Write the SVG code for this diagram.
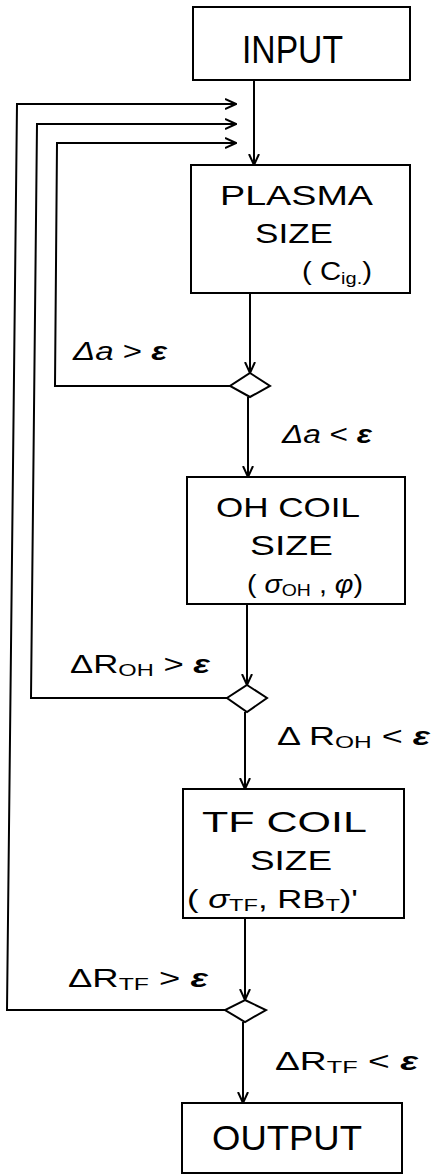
<svg xmlns="http://www.w3.org/2000/svg" width="431" height="1174" viewBox="0 0 431 1174">
<style>
.box{fill:#fff;stroke:#000;stroke-width:2}
.dia{fill:#fff;stroke:#000;stroke-width:2}
.ln{fill:none;stroke:#000;stroke-width:2}
text{font-family:"Liberation Sans",Arial,sans-serif;fill:#000}
.big{font-size:28px}
.sm{font-size:25px}
.lab{font-size:25px}
.it{font-style:italic}
.sub{font-size:17px}
.eps{font-style:italic;font-weight:bold}
</style>
<defs>
<marker id="arr" viewBox="0 0 12 12" refX="11" refY="6" markerWidth="12" markerHeight="12" orient="auto" markerUnits="userSpaceOnUse">
<path d="M0,1 L11,6 L0,11" fill="none" stroke="#000" stroke-width="2"/>
</marker>
</defs>
<rect width="431" height="1174" fill="#fff"/>
<g id="connectors">
<line class="ln" x1="254" y1="80" x2="254" y2="165" marker-end="url(#arr)"/>
<line class="ln" x1="250" y1="293" x2="250" y2="373" marker-end="url(#arr)"/>
<line class="ln" x1="248" y1="397" x2="248" y2="477" marker-end="url(#arr)"/>
<line class="ln" x1="247" y1="604" x2="247" y2="685" marker-end="url(#arr)"/>
<line class="ln" x1="245" y1="712" x2="245" y2="789" marker-end="url(#arr)"/>
<line class="ln" x1="245" y1="918" x2="245" y2="1000" marker-end="url(#arr)"/>
<line class="ln" x1="243" y1="1022" x2="243" y2="1103" marker-end="url(#arr)"/>
<polyline class="ln" points="230,386 55,386 57,143 236,143" marker-end="url(#arr)"/>
<polyline class="ln" points="227,698 31,698 37,124 236,124" marker-end="url(#arr)"/>
<polyline class="ln" points="225,1010 7,1010 17,104 236,104" marker-end="url(#arr)"/>
<text class="lab" x="73" y="360" textLength="94" lengthAdjust="spacingAndGlyphs"><tspan class="it">Δa</tspan> &gt; <tspan class="eps">ε</tspan></text>
<text class="lab" x="282" y="443" textLength="90" lengthAdjust="spacingAndGlyphs"><tspan class="it">Δa</tspan> &lt; <tspan class="eps">ε</tspan></text>
<text class="lab" x="70" y="673" textLength="140" lengthAdjust="spacingAndGlyphs">ΔR<tspan class="sub" dy="3">OH</tspan><tspan dy="-3"> &gt; </tspan><tspan class="eps">ε</tspan></text>
<text class="lab" x="277" y="745" textLength="153" lengthAdjust="spacingAndGlyphs">Δ R<tspan class="sub" dy="3">OH</tspan><tspan dy="-3"> &lt; </tspan><tspan class="eps">ε</tspan></text>
<text class="lab" x="68" y="987" textLength="140" lengthAdjust="spacingAndGlyphs">ΔR<tspan class="sub" dy="3">TF</tspan><tspan dy="-3"> &gt; </tspan><tspan class="eps">ε</tspan></text>
<text class="lab" x="275" y="1070" textLength="143" lengthAdjust="spacingAndGlyphs">ΔR<tspan class="sub" dy="3">TF</tspan><tspan dy="-3"> &lt; </tspan><tspan class="eps">ε</tspan></text>
</g>
<g id="input">
<rect class="box" x="193" y="7" width="217" height="73"/>
<text x="242" y="63" font-size="38" textLength="101" lengthAdjust="spacingAndGlyphs">INPUT</text>
</g>
<g id="plasma">
<rect class="box" x="191" y="165" width="219" height="128"/>
<text class="big" x="220" y="205" textLength="153" lengthAdjust="spacingAndGlyphs">PLASMA</text>
<text class="big" x="255" y="243" textLength="78" lengthAdjust="spacingAndGlyphs">SIZE</text>
<text class="sm" x="302" y="280" textLength="70" lengthAdjust="spacingAndGlyphs">( C<tspan class="sub" dy="4">ig.</tspan><tspan dy="-4">)</tspan></text>
</g>
<g id="dec1"><polygon class="dia" points="250,373 270,386 250,397 230,386"/></g>
<g id="oh">
<rect class="box" x="187" y="477" width="218" height="127"/>
<text class="big" x="216" y="517" textLength="144" lengthAdjust="spacingAndGlyphs">OH  COIL</text>
<text class="big" x="250" y="555" textLength="83" lengthAdjust="spacingAndGlyphs">SIZE</text>
<text class="sm" x="247" y="593" textLength="116" lengthAdjust="spacingAndGlyphs">( <tspan class="it">σ</tspan><tspan class="sub" dy="3">OH</tspan><tspan dy="-3"> ,  </tspan><tspan class="it">φ</tspan>)</text>
</g>
<g id="dec2"><polygon class="dia" points="247,685 267,698 247,712 227,698"/></g>
<g id="tf">
<rect class="box" x="183" y="789" width="221" height="129"/>
<text x="202" y="832" font-size="30" textLength="165" lengthAdjust="spacingAndGlyphs">TF  COIL</text>
<text class="big" x="250" y="870" textLength="82" lengthAdjust="spacingAndGlyphs">SIZE</text>
<text class="sm" x="187" y="908" textLength="171" lengthAdjust="spacingAndGlyphs">( <tspan class="it">σ</tspan><tspan class="sub" dy="3">TF</tspan><tspan dy="-3">, RB</tspan><tspan class="sub" dy="3">T</tspan><tspan dy="-3">)'</tspan></text>
</g>
<g id="dec3"><polygon class="dia" points="245,1000 266,1010 245,1022 225,1010"/></g>
<g id="output">
<rect class="box" x="182" y="1103" width="220" height="70"/>
<text x="212" y="1150" font-size="35" textLength="150" lengthAdjust="spacingAndGlyphs">OUTPUT</text>
</g>
</svg>
